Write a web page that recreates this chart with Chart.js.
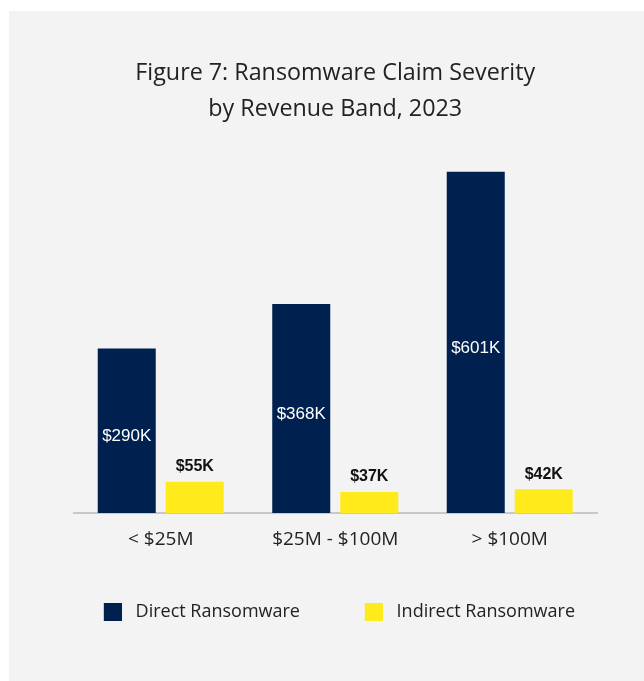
<!DOCTYPE html>
<html>
<head>
<meta charset="utf-8">
<script src="https://cdn.jsdelivr.net/npm/chart.js@4"></script>
<style>
  html, body { margin: 0; padding: 0; background: #ffffff; }
  body { width: 644px; height: 681px; position: relative; overflow: hidden; }
  #panel { position: absolute; left: 9px; top: 11px; width: 635px; height: 670px; background: #F3F3F3; }
  canvas { display: block; }
</style>
</head>
<body>
<div id="panel"><canvas id="c" width="635" height="670"></canvas></div>
<script>
const categories = ["< $25M", "$25M - $100M", "> $100M"];
const seriesNames = ["Direct Ransomware", "Indirect Ransomware"];
const directValues = [290, 368, 601];
const indirectValues = [55, 37, 42];
const titleLines = ["Figure 7: Ransomware Claim Severity", "by Revenue Band, 2023"];

const NAVY = "#00214F";
const YELLOW = "#FFEB1C";
const TEXT = "#222222";
const MAIN_FONT = "'Open Sans'";
const LABEL_FONT = "'Liberation Sans', Arial, sans-serif";
const LEG_SIZE = 18;
const LEG_PAD = 22;
const TICK_SIZE = 19;

// legend spacing: measure first label so the second item lands where the reference has it
const mctx = document.createElement('canvas').getContext('2d');
mctx.font = LEG_SIZE + 'px ' + MAIN_FONT;
const tw1 = mctx.measureText(seriesNames[0]).width;
const LEG_W = Math.max(30, 261 - LEG_PAD - LEG_SIZE / 2 - tw1);
const IMG_W = LEG_W - 2 * (14 - LEG_SIZE / 2);
function swatch(color) {
  const c = document.createElement('canvas');
  c.width = Math.round(IMG_W); c.height = 18;
  const g = c.getContext('2d');
  g.fillStyle = color;
  g.fillRect(c.width - 18, 0, 18, 18);
  return c;
}
const swatches = [swatch(NAVY), swatch(YELLOW)];

const valueLabels = {
  id: 'valueLabels',
  afterDatasetsDraw(chart) {
    const ctx = chart.ctx;
    ctx.save();
    ctx.textAlign = 'center';
    ctx.textBaseline = 'middle';
    chart.data.datasets.forEach((ds, di) => {
      const meta = chart.getDatasetMeta(di);
      meta.data.forEach((bar, i) => {
        const txt = '$' + ds.data[i] + 'K';
        if (di === 0) {
          ctx.fillStyle = '#ffffff';
          ctx.font = '17px ' + LABEL_FONT;
          ctx.fillText(txt, bar.x, (bar.y + bar.base) / 2 + 6);
        } else {
          ctx.fillStyle = '#111111';
          ctx.font = 'bold 16px ' + LABEL_FONT;
          ctx.fillText(txt, bar.x, bar.y - 15);
        }
      });
    });
    ctx.restore();
  }
};

new Chart(document.getElementById('c'), {
  type: 'bar',
  data: {
    labels: categories,
    datasets: [
      { label: seriesNames[0], data: directValues, backgroundColor: NAVY },
      { label: seriesNames[1], data: indirectValues, backgroundColor: YELLOW }
    ]
  },
  options: {
    responsive: false,
    animation: false,
    devicePixelRatio: 1,
    categoryPercentage: 0.7794,
    barPercentage: 0.853,
    layout: { padding: { left: 0, right: 47, top: 0, bottom: 50.3 } },
    plugins: {
      tooltip: { enabled: false },
      title: {
        display: true,
        fullSize: false,
        text: titleLines,
        color: TEXT,
        font: { family: MAIN_FONT, size: 23.3, weight: '400', lineHeight: 36 / 23.3 },
        padding: { top: 44, bottom: 0 }
      },
      legend: {
        position: 'bottom',
        align: 'end',
        labels: {
          usePointStyle: true,
          pointStyleWidth: LEG_W,
          padding: LEG_PAD,
          color: TEXT,
          font: { family: MAIN_FONT, size: LEG_SIZE },
          generateLabels(chart) {
            const items = Chart.defaults.plugins.legend.labels.generateLabels(chart);
            items.forEach((it, i) => { it.pointStyle = swatches[i]; });
            return items;
          }
        }
      }
    },
    scales: {
      x: {
        grid: { display: false, drawTicks: false },
        border: { display: true, color: '#C8C8C8', width: 2 },
        ticks: { color: TEXT, font: { family: MAIN_FONT, size: TICK_SIZE }, padding: 15.6 },
        afterFit(scale) { scale.height = 67.7; }
      },
      y: {
        display: true,
        min: 0,
        max: 680,
        grid: { display: false, drawTicks: false },
        border: { display: false },
        ticks: { display: false },
        afterFit(scale) { scale.width = 64.5; }
      }
    }
  },
  plugins: [valueLabels]
});
</script>
</body>
</html>
